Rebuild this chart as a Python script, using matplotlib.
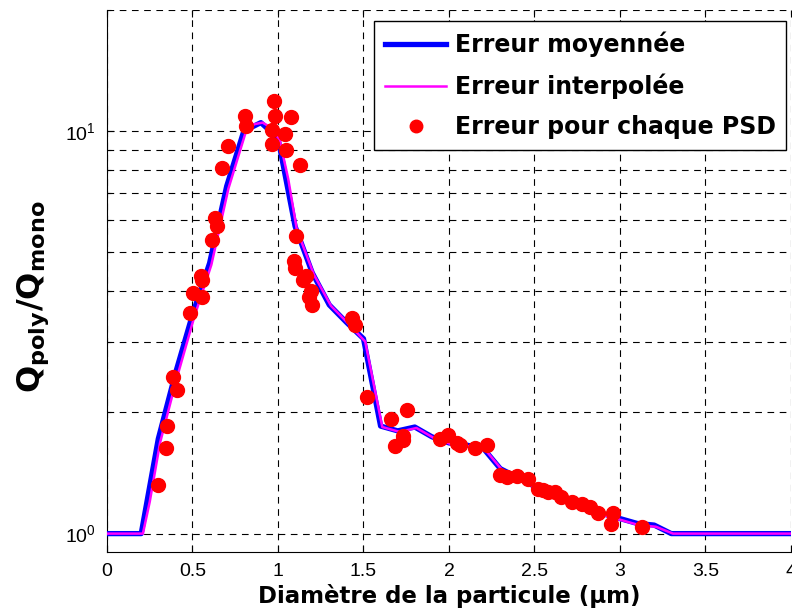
import matplotlib.pyplot as plt
from matplotlib.ticker import FixedLocator, NullFormatter

# averaged error curve
d_moy = [0.0, 0.1, 0.2, 0.3, 0.4, 0.5, 0.6, 0.7, 0.8, 0.9, 1.0, 1.1, 1.2, 1.3, 1.4,
         1.5, 1.6, 1.7, 1.8, 1.9, 2.0, 2.1, 2.2, 2.3, 2.4, 2.5, 2.6, 2.7, 2.8, 2.9,
         3.0, 3.1, 3.2, 3.3, 4.0]
err_moy = [1.0, 1.0, 1.0, 1.72, 2.5, 3.5, 4.7, 7.3, 10.0, 10.5, 9.6, 5.8, 4.45, 3.7, 3.35,
           3.05, 1.85, 1.80, 1.84, 1.74, 1.68, 1.66, 1.63, 1.45, 1.38, 1.31, 1.25, 1.20, 1.16, 1.12,
           1.09, 1.06, 1.05, 1.0, 1.0]

# interpolated error curve
d_interp = [0.0, 0.21, 0.25, 0.31, 0.41, 0.51, 0.61, 0.71, 0.81, 0.86, 0.91, 0.96, 1.01, 1.06, 1.11,
            1.21, 1.31, 1.41, 1.51, 1.61, 1.71, 1.81, 1.91, 2.01, 2.11, 2.21, 2.31, 2.41,
            2.51, 2.61, 2.71, 2.81, 2.91, 3.01, 3.11, 3.21, 3.31, 4.0]
err_interp = [1.0, 1.0, 1.2, 1.68, 2.45, 3.45, 4.65, 7.2, 9.9, 10.4, 10.5, 10.2, 9.5, 7.6, 5.7,
              4.4, 3.68, 3.33, 3.0, 1.84, 1.79, 1.83, 1.73, 1.67, 1.65, 1.62, 1.44, 1.37,
              1.30, 1.24, 1.19, 1.15, 1.11, 1.08, 1.05, 1.04, 1.0, 1.0]

# error for each PSD
d_psd = [0.300, 0.343, 0.353, 0.388, 0.408, 0.485, 0.505, 0.554, 0.550, 0.554,
         0.612, 0.632, 0.641, 0.671, 0.708, 0.807, 0.815, 0.975, 0.982, 1.078,
         0.965, 1.041, 0.963, 1.044, 1.126, 1.105, 1.095, 1.099, 1.164, 1.146,
         1.191, 1.181, 1.197, 1.431, 1.450, 1.522, 1.659, 1.753, 1.733, 1.733,
         1.684, 1.950, 1.996, 2.045, 2.067, 2.152, 2.220, 2.298, 2.337, 2.400,
         2.464, 2.520, 2.551, 2.581, 2.620, 2.655, 2.717, 2.776, 2.825, 2.873,
         2.961, 2.947, 3.127]
err_psd = [1.32, 1.636, 1.847, 2.45, 2.27, 3.53, 3.96, 3.88, 4.37, 4.27,
           5.35, 6.09, 5.81, 8.09, 9.18, 10.9, 10.3, 11.9, 10.9, 10.85,
           10.08, 9.82, 9.29, 9.0, 8.26, 5.48, 4.75, 4.58, 4.37, 4.26,
           4.01, 3.87, 3.70, 3.43, 3.30, 2.18, 1.93, 2.03, 1.75, 1.71,
           1.65, 1.72, 1.76, 1.68, 1.66, 1.63, 1.66, 1.40, 1.38, 1.39,
           1.365, 1.294, 1.282, 1.27, 1.27, 1.236, 1.199, 1.185, 1.163, 1.128,
           1.125, 1.059, 1.041]

x_ticks = [0, 0.5, 1, 1.5, 2, 2.5, 3, 3.5, 4]
y_grid_minor = [2, 3, 4, 5, 6, 7, 8, 9, 20]

plt.rcParams['mathtext.fontset'] = 'dejavusans'

fig = plt.figure(figsize=(7.92, 6.12), dpi=100)
ax = fig.add_axes([0.1351, 0.098, 0.8636, 0.8857])

ax.plot(d_moy, err_moy, color='blue', lw=3.8, label='Erreur moyennée', zorder=3)
ax.plot(d_interp, err_interp, color='magenta', lw=1.8, label='Erreur interpolée', zorder=4)
ax.plot(d_psd, err_psd, 'o', color='red', ms=10, mec='red', label='Erreur pour chaque PSD',
        zorder=5)

ax.set_yscale('log')
ax.set_xlim(0, 4)
ax.set_ylim(0.9, 20)

ax.set_xticks(x_ticks)
ax.set_xticklabels(['0', '0.5', '1', '1.5', '2', '2.5', '3', '3.5', '4'])
ax.yaxis.set_major_locator(FixedLocator([1, 10]))
ax.yaxis.set_minor_locator(FixedLocator(y_grid_minor))
ax.yaxis.set_minor_formatter(NullFormatter())

grid_kw = dict(color='black', lw=0.8, linestyle=(0, (6, 5)))
ax.grid(True, which='major', axis='both', **grid_kw)
ax.grid(True, which='minor', axis='y', **grid_kw)

ax.tick_params(which='both', direction='in', top=True, length=5, width=0.8,
               labelsize=14, pad=8)
ax.tick_params(which='minor', length=3)
for lab in ax.get_xticklabels() + ax.get_yticklabels():
    lab.set_family('Liberation Sans')

ax.spines['top'].set_visible(False)
ax.spines['right'].set_visible(False)

ax.set_xlabel('Diamètre de la particule (µm)', fontsize=16.5, fontweight='bold',
              family='DejaVu Sans', labelpad=3)
ax.set_ylabel(r'$\mathbf{Q_{poly}/Q_{mono}}$', fontsize=23)
ax.yaxis.set_label_coords(-0.082, 0.47)

leg = ax.legend(loc='upper right', bbox_to_anchor=(0.993, 0.98),
                prop={'weight': 'bold', 'size': 17, 'family': 'DejaVu Sans'},
                frameon=True, fancybox=False, edgecolor='black', framealpha=1,
                handlelength=2.6, labelspacing=0.7, borderpad=0.45, handletextpad=0.35,
                borderaxespad=0)
leg.get_frame().set_linewidth(1.0)
for h in leg.legend_handles:
    if hasattr(h, 'set_markersize'):
        h.set_markersize(9)

fig.savefig('out.png', dpi=100)
